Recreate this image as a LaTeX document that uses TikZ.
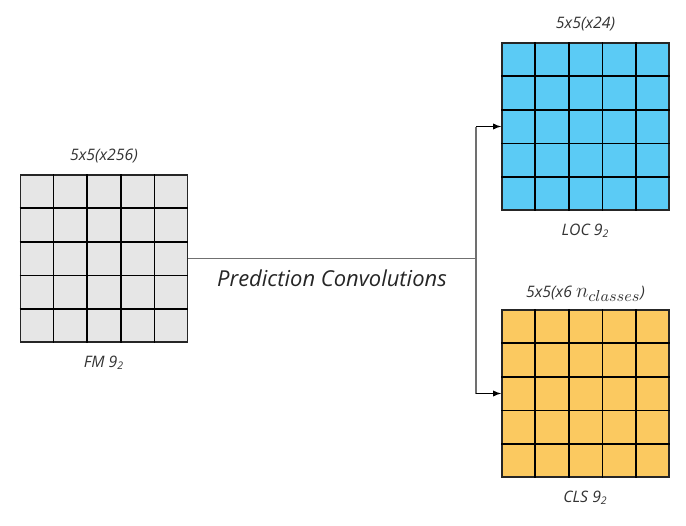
\documentclass[tikz,border=0pt]{standalone}
\usepackage{fontspec}
\setmainfont{Open Sans}
\usetikzlibrary{calc}
\definecolor{fmgray}{HTML}{E6E6E6}
\definecolor{locblue}{HTML}{5BCBF5}
\definecolor{clsyellow}{HTML}{FBC960}
\definecolor{linkgray}{HTML}{707070}
\begin{document}
\begin{tikzpicture}[x=0.02cm,y=-0.02cm,>=latex,
  fmap/.style={draw=black!85,line width=1pt,minimum size=3.34cm,inner sep=0pt},
  lbl/.style={font=\itshape\fontsize{9}{11}\selectfont,text=black!80}]
\useasboundingbox (0,0) rectangle (686,525);
% feature maps
\node[fmap,fill=fmgray] (fm) at (104,258.5) {};
\node[fmap,fill=locblue] (loc) at (585.5,126.5) {};
\node[fmap,fill=clsyellow] (cls) at (585.5,393.5) {};
\foreach \g in {fm,loc,cls} {
  \foreach \i in {1,...,4} {
    \draw[line width=1pt] ($(\g.south west)!\i/5!(\g.south east)$) -- ($(\g.north west)!\i/5!(\g.north east)$);
    \draw[line width=1pt] ($(\g.south west)!\i/5!(\g.north west)$) -- ($(\g.south east)!\i/5!(\g.north east)$);
  }
}
% labels
\node[lbl,above=3pt] (fmtop) at (fm.north) {5x5(x256)};
\node[lbl,below=4pt] (fmbot) at (fm.south) {FM 9\textsubscript{2}};
\node[lbl,above=3pt] (loctop) at (loc.north) {5x5(x24)};
\node[lbl,below=4pt] (locbot) at (loc.south) {LOC 9\textsubscript{2}};
\node[lbl,above=1pt] (clstop) at (cls.north) {5x5(x6 {\fontsize{12.5}{14}\selectfont$n_{classes}$})};
\node[lbl,below=4pt] (clsbot) at (cls.south) {CLS 9\textsubscript{2}};
% connectors
\coordinate (split) at (476,258.5);
\draw[linkgray,line width=0.6pt] (fm.east) -- (split);
\draw[linkgray,line width=0.6pt] (split |- loc.west) -- (split |- cls.west);
\draw[->,line width=0.6pt] (split |- loc.west) -- (loc.west);
\draw[->,line width=0.6pt] (split |- cls.west) -- (cls.west);
\node[font=\itshape\fontsize{12.5}{15}\selectfont,text=black!85] (pc) at (332,278) {Prediction Convolutions};
\end{tikzpicture}
\end{document}
